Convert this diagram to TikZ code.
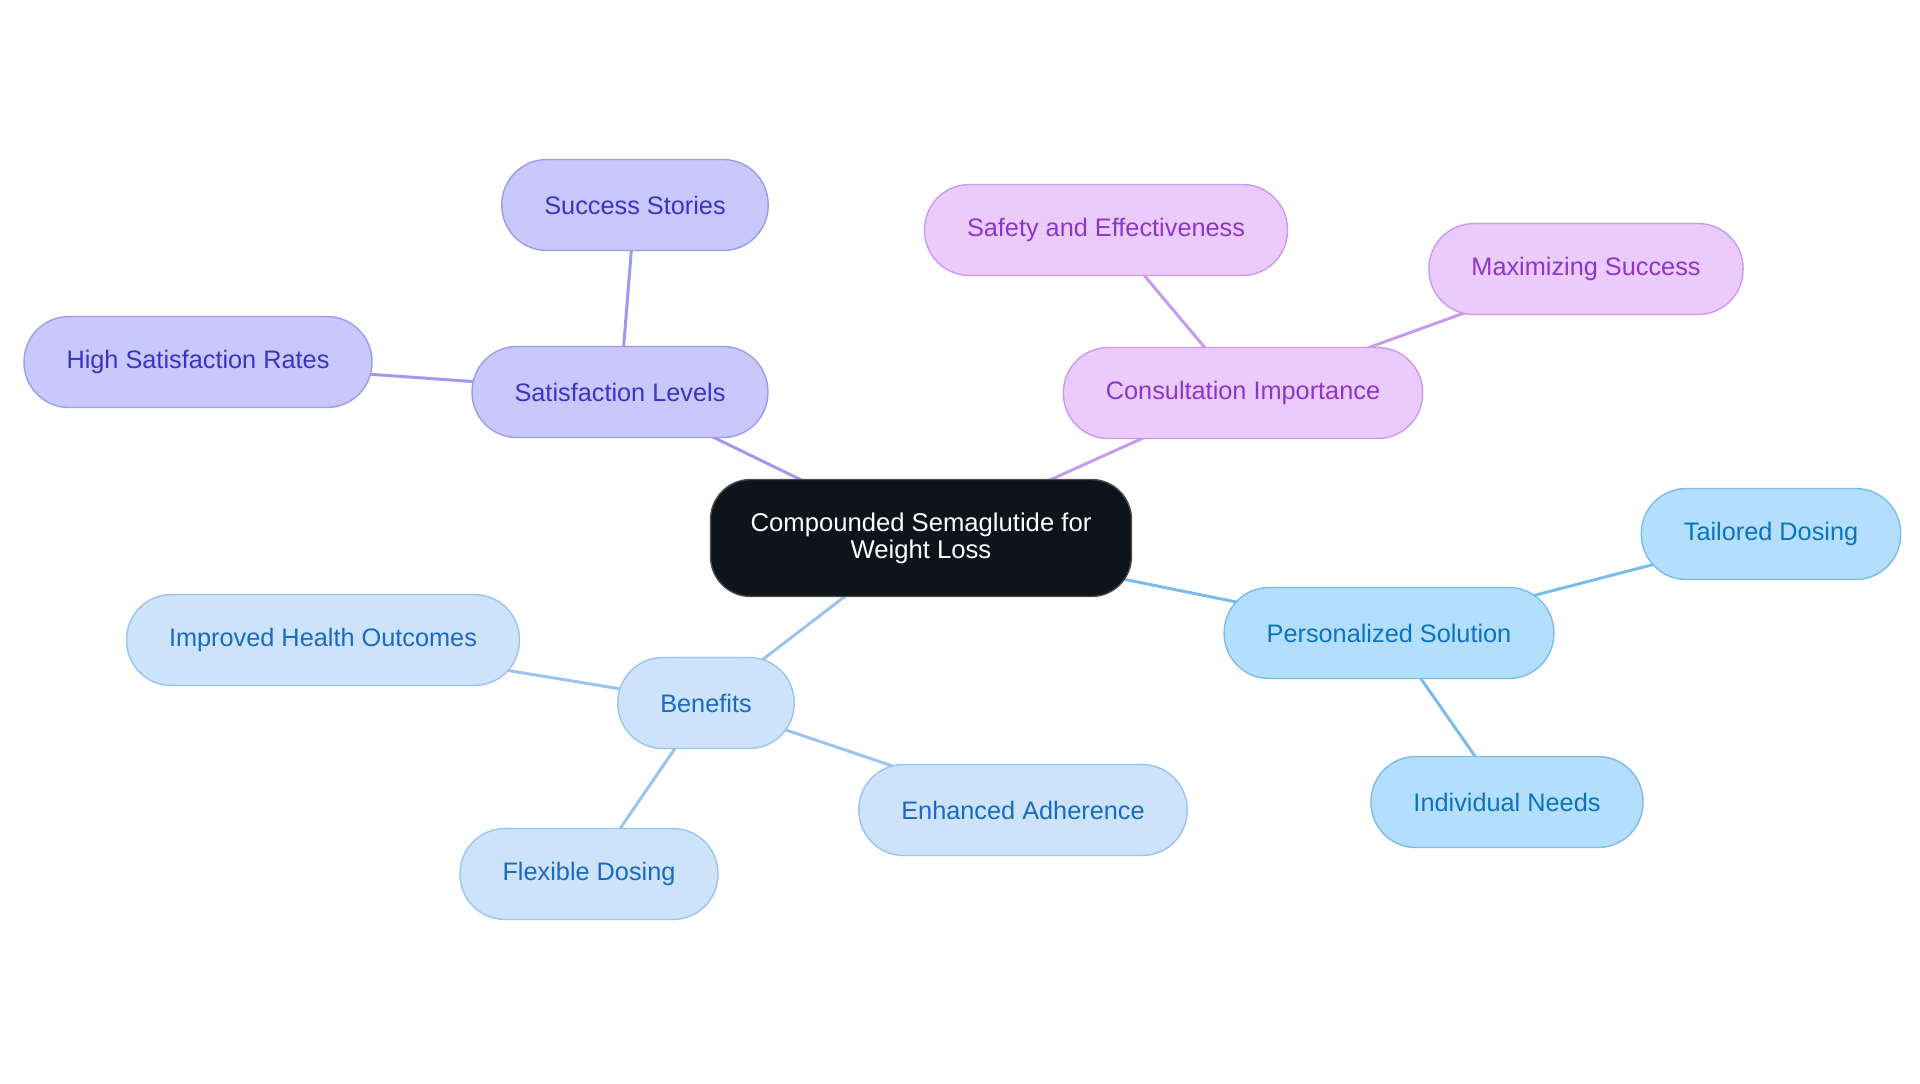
\documentclass[tikz,border=0pt]{standalone}
\usepackage{fontspec}
\setmainfont{Liberation Sans}
\usepackage{tikz}
\usetikzlibrary{backgrounds}
\definecolor{rootcolor}{RGB}{13,20,28}
\definecolor{satfill}{RGB}{200,200,252}
\definecolor{satdraw}{RGB}{158,156,234}
\definecolor{sattext}{RGB}{58,53,192}
\definecolor{consfill}{RGB}{235,203,252}
\definecolor{consdraw}{RGB}{200,154,240}
\definecolor{constext}{RGB}{142,53,201}
\definecolor{benfill}{RGB}{205,227,250}
\definecolor{bendraw}{RGB}{156,195,238}
\definecolor{bentext}{RGB}{26,106,192}
\definecolor{persfill}{RGB}{179,223,252}
\definecolor{persdraw}{RGB}{122,188,235}
\definecolor{perstext}{RGB}{11,116,192}

\begin{document}
\begin{tikzpicture}[
    x=0.02cm, y=-0.02cm,
    topic/.style={draw, line width=0.8pt, rounded corners=0.9cm, minimum height=1.82cm, inner xsep=0.85cm, font=\fontsize{14.4}{17}\selectfont},
    root/.style={draw=black!70, line width=0.8pt, fill=rootcolor, text=white, rounded corners=0.8cm, minimum height=2.34cm, minimum width=8.42cm, align=center, font=\fontsize{14.6}{15.5}\selectfont},
    sat/.style={topic, fill=satfill, draw=satdraw, text=sattext},
    cons/.style={topic, fill=consfill, draw=consdraw, text=constext},
    ben/.style={topic, fill=benfill, draw=bendraw, text=bentext},
    pers/.style={topic, fill=persfill, draw=persdraw, text=perstext},
    link/.style={line width=1.7pt}
]
    \useasboundingbox (0,0) rectangle (1920,1083);

    % Central topic
    \node[root] (root) at (921,538) {Compounded Semaglutide for\\Weight Loss};

    % Satisfaction branch
    \node[sat] (sat) at (620,392) {Satisfaction Levels};
    \node[sat] (succ) at (635,205) {Success Stories};
    \node[sat] (high) at (198,362) {High Satisfaction Rates};

    % Consultation branch
    \node[cons] (cons) at (1243,393) {Consultation Importance};
    \node[cons] (safe) at (1106,230) {Safety and Effectiveness};
    \node[cons] (maxs) at (1586,269) {Maximizing Success};

    % Personalized branch
    \node[pers] (pers) at (1389,633) {Personalized Solution};
    \node[pers] (tail) at (1771,534) {Tailored Dosing};
    \node[pers] (indiv) at (1507,802) {Individual Needs};

    % Benefits branch
    \node[ben] (ben) at (706,703) {Benefits};
    \node[ben] (impr) at (323,640) {Improved Health Outcomes};
    \node[ben] (enh) at (1023,810) {Enhanced Adherence};
    \node[ben] (flex) at (589,874) {Flexible Dosing};

    % Connections (center to center, behind the nodes)
    \begin{scope}[on background layer]
        \draw[link, satdraw] (root.center) -- (sat.center);
        \draw[link, satdraw] (sat.center) -- (succ.center);
        \draw[link, satdraw] (sat.center) -- (high.center);
        \draw[link, consdraw] (root.center) -- (cons.center);
        \draw[link, consdraw] (cons.center) -- (safe.center);
        \draw[link, consdraw] (cons.center) -- (maxs.center);
        \draw[link, persdraw] (root.center) -- (pers.center);
        \draw[link, persdraw] (pers.center) -- (tail.center);
        \draw[link, persdraw] (pers.center) -- (indiv.center);
        \draw[link, bendraw] (root.center) -- (ben.center);
        \draw[link, bendraw] (ben.center) -- (impr.center);
        \draw[link, bendraw] (ben.center) -- (enh.center);
        \draw[link, bendraw] (ben.center) -- (flex.center);
    \end{scope}
\end{tikzpicture}
\end{document}
